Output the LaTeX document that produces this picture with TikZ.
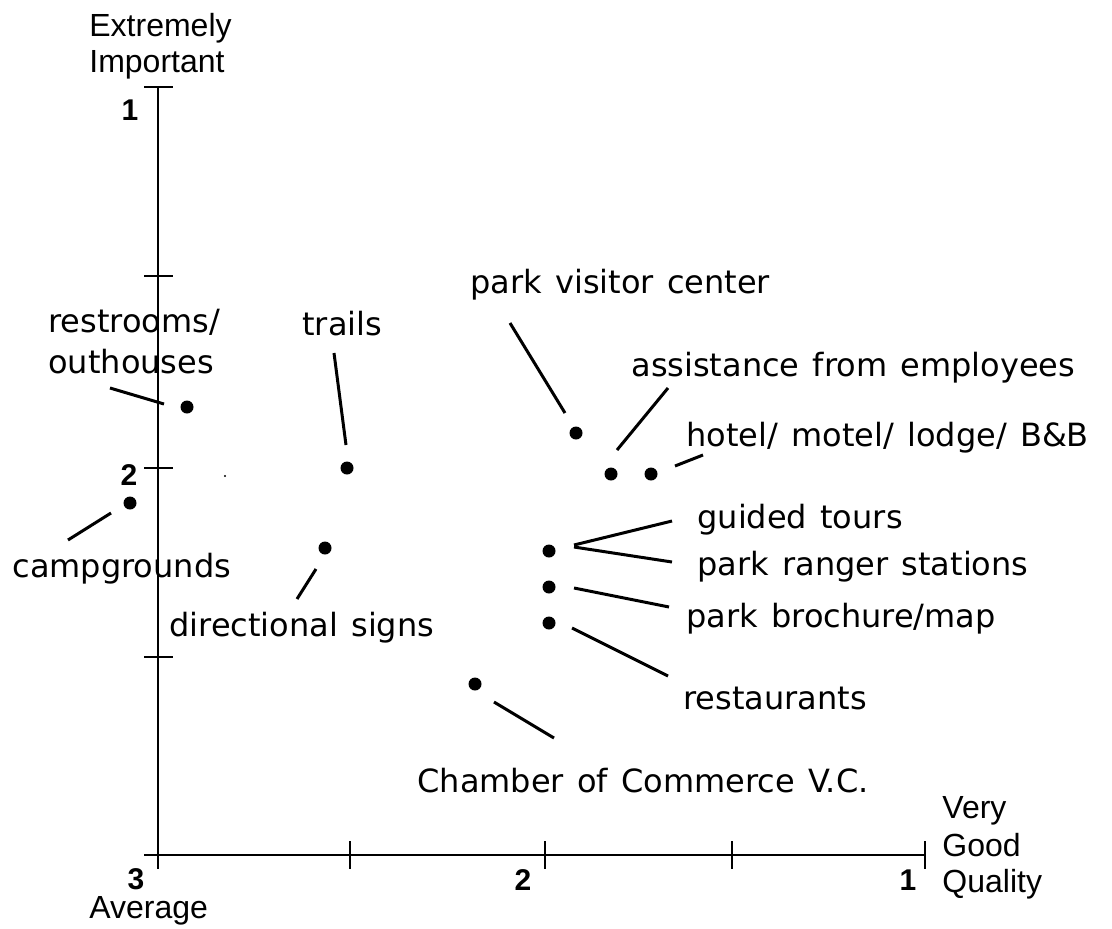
\documentclass[tikz,border=0pt]{standalone}
\usepackage{fontspec}
\setmainfont{Liberation Sans}
\newfontfamily\lblfont[WordSpace=1.3]{DejaVu Sans}
\tikzset{dot/.style={circle, fill=black, inner sep=0pt, minimum size=6.5pt}}
\tikzset{lbl/.style={inner sep=0pt, anchor=base west, font=\lblfont\fontsize{16}{19}\selectfont}}
\tikzset{axlbl/.style={inner sep=0pt, anchor=base west, font=\fontsize{16}{19}\selectfont}}
\tikzset{num/.style={inner sep=0pt, font=\bfseries\fontsize{15}{18}\selectfont}}
\tikzset{lead/.style={line width=1.5pt}}
\tikzset{tick/.style={line width=1pt}}

\begin{document}
\begin{tikzpicture}[x=0.5pt,y=-0.5pt]
    \useasboundingbox (0,0) rectangle (1112,928);
    % axes
    \draw[line width=1.4pt] (158,87) -- (158,869);
    \draw[line width=1.4pt] (144,855) -- (925,855);
    \foreach \y in {87,276,468,657} \draw[tick] (144,\y) -- ++(29,0);
    \foreach \x in {350,545,732,925} \draw[tick] (\x,841) -- ++(0,28);
    \node[num] (y1) at (130,110) {1};
    \node[num] (y2) at (129,475) {2};
    \node[num] (x3) at (136,879) {3};
    \node[num] (x2) at (523,880) {2};
    \node[num] (x1) at (908,880) {1};
    \node[axlbl] (ext) at (89,36) {Extremely};
    \node[axlbl] (imp) at (89,72) {Important};
    \node[axlbl] (avg) at (89,918) {Average};
    \node[axlbl] (very) at (942,818) {Very};
    \node[axlbl] (good) at (942,856) {Good};
    \node[axlbl] (qual) at (942,892) {Quality};
    % points
    \node[dot] (visitor) at (576,433) {};
    \node[dot] (assist) at (611,474) {};
    \node[dot] (hotel) at (651,474) {};
    \node[dot] (tours) at (549,551) {};
    \node[dot] (broch) at (549,587) {};
    \node[dot] (rest) at (549,623) {};
    \node[dot] (chamber) at (475,684) {};
    \node[dot] (restroom) at (187,407) {};
    \node[dot] (trails) at (347,468) {};
    \node[dot] (camp) at (130,503) {};
    \node[dot] (signs) at (325,548) {};
    \node[circle, fill=black, inner sep=0pt, minimum size=1.2pt] (speck) at (225,476) {};
    % labels
    \node[lbl] (visitorL) at (470,293) {park visitor center};
    \node[lbl] (assistL) at (631,376) {assistance from employees};
    \node[lbl] (hotelL) at (686,446) {hotel/ motel/ lodge/ B\&B};
    \node[lbl] (toursL) at (697,528) {guided tours};
    \node[lbl] (rangerL) at (697,575) {park ranger stations};
    \node[lbl] (brochL) at (686,627) {park brochure/map};
    \node[lbl] (restL) at (683,709) {restaurants};
    \node[lbl] (chamberL) at (417,792) {Chamber of Commerce V.C.};
    \node[lbl] (restroomL) at (48,332) {restrooms/};
    \node[lbl] (outhouseL) at (48,373) {outhouses};
    \node[lbl] (trailsL) at (302,335) {trails};
    \node[lbl] (campL) at (12,577) {campgrounds};
    \node[lbl] (signsL) at (169,636) {directional signs};
    % leaders
    \draw[lead] (visitor) ++(-11,-20) -- ++(-55,-90);
    \draw[lead] (assist) ++(6,-24) -- ++(51,-62);
    \draw[lead] (hotel) ++(24,-8) -- ++(28,-11);
    \draw[lead] (tours) ++(25,-6) -- ++(98,-24);
    \draw[lead] (tours) ++(25,-4) -- ++(98,15);
    \draw[lead] (broch) ++(25,1) -- ++(95,19);
    \draw[lead] (rest) ++(23,5) -- ++(96,48);
    \draw[lead] (chamber) ++(19,18) -- ++(60,36);
    \draw[lead] (restroom) ++(-23,-3) -- ++(-54,-16);
    \draw[lead] (trails) ++(-1,-23) -- ++(-12,-92);
    \draw[lead] (camp) ++(-19,10) -- ++(-43,27);
    \draw[lead] (signs) ++(-9,21) -- ++(-19,30);
\end{tikzpicture}
\end{document}
